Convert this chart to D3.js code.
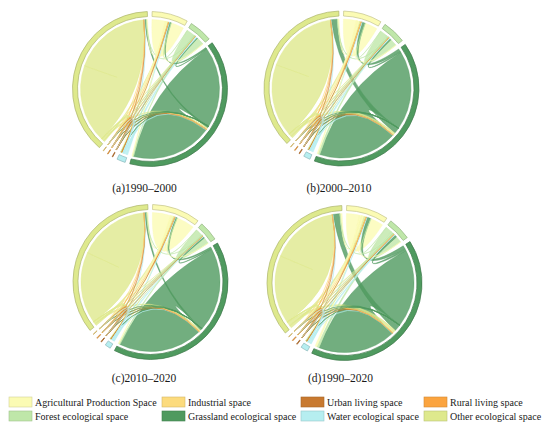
<!DOCTYPE html>
<html>
<head>
<meta charset="utf-8">
<script src="https://cdn.jsdelivr.net/npm/d3@7"></script>
<style>
  body { margin: 0; background: #fff; }
  svg { display: block; }
  text { font-family: "Liberation Serif", "Times New Roman", serif; fill: #1a1a1a; }
</style>
</head>
<body>
<svg id="chart" width="550" height="431"></svg>
<script>
// land-use classes, in the order they sit clockwise round each circle
var spaces = [
    "Agricultural Production Space",
    "Forest ecological space",
    "Grassland ecological space",
    "Water ecological space",
    "Urban living space",
    "Rural living space",
    "Industrial space",
    "Other ecological space"
];

var spaceColors = [
    "#fbfbb4", // agricultural
    "#bfe7a9", // forest
    "#4f9a5f", // grassland
    "#b6eef0", // water
    "#c8792f", // urban
    "#fba43f", // rural
    "#fcdb7d", // industrial
    "#dee98d"  // other
];

// legend is read row by row, 4 per row
var legendOrder = [
    "Agricultural Production Space", "Industrial space", "Urban living space", "Rural living space",
    "Forest ecological space", "Grassland ecological space", "Water ecological space", "Other ecological space"
];

var periods = ["(a)1990\u20132000", "(b)2000\u20132010", "(c)2010\u20132020", "(d)1990\u20132020"];

// transfer matrices, rows = from, cols = to (same order as spaces)
var flow1990_2000 = [
    [107, 3, 6, 2, 0.5, 0.5, 0.3, 9],
    [3, 63, 9, 1, 0.2, 0.2, 0.1, 3],
    [10, 5, 672, 3, 0.4, 0.4, 0.2, 12],
    [10, 20, 6, 5, 0.05, 0.05, 0.05, 7],
    [1.2, 0.4, 0.8, 0.05, 0.3, 0.05, 0.05, 0.2],
    [1.2, 0.4, 0.8, 0.05, 0.05, 0.3, 0.05, 0.2],
    [0.6, 0.3, 0.5, 0.05, 0.05, 0.05, 0.3, 0.15],
    [9, 3, 16, 5, 0.1, 0.1, 0.1, 652]
];

var flow2000_2010 = [
    [104, 4, 8, 2, 0.5, 0.5, 0.3, 12],
    [3, 59, 15, 1, 0.2, 0.2, 0.1, 4],
    [25, 10, 656, 3, 0.4, 0.4, 0.2, 50],
    [8, 15, 4, 4, 0.05, 0.05, 0.05, 5],
    [1.3, 0.4, 0.8, 0.05, 0.3, 0.05, 0.05, 0.2],
    [1.1, 0.5, 0.8, 0.05, 0.05, 0.3, 0.05, 0.2],
    [0.6, 0.3, 0.5, 0.05, 0.05, 0.05, 0.3, 0.15],
    [15, 4, 20, 4, 0.1, 0.1, 0.1, 608]
];

var flow2010_2020 = [
    [150, 3, 7, 2, 0.5, 0.5, 0.3, 10],
    [3, 52, 10, 1, 0.2, 0.2, 0.1, 3],
    [12, 8, 701, 3, 0.4, 0.4, 0.2, 15],
    [6, 12, 4, 3, 0.05, 0.05, 0.05, 5],
    [1.2, 0.4, 0.9, 0.05, 0.3, 0.05, 0.05, 0.2],
    [1.3, 0.4, 0.8, 0.05, 0.05, 0.3, 0.05, 0.2],
    [0.6, 0.3, 0.5, 0.05, 0.05, 0.05, 0.3, 0.15],
    [15, 3, 16, 4, 0.1, 0.1, 0.1, 598]
];

var flow1990_2020 = [
    [106, 5, 15, 2, 0.5, 0.5, 0.3, 15],
    [4, 51, 20, 1, 0.2, 0.2, 0.1, 5],
    [30, 15, 649, 4, 0.4, 0.4, 0.2, 55],
    [8, 15, 5, 4, 0.05, 0.05, 0.05, 6],
    [1.4, 0.5, 1, 0.05, 0.3, 0.05, 0.05, 0.2],
    [1.3, 0.5, 0.9, 0.05, 0.05, 0.3, 0.05, 0.2],
    [0.7, 0.3, 0.6, 0.05, 0.05, 0.05, 0.3, 0.15],
    [20, 5, 30, 5, 0.1, 0.1, 0.1, 571]
];

var flows = [flow1990_2000, flow2000_2010, flow2010_2020, flow1990_2020];

var svg = d3.select("#chart");

var rOuter = 77.5, rInner = 72.5, rRibbon = 69.5;
var centers = [[150, 89], [341.5, 88.5], [150.5, 282], [344.5, 283]];
var labelAt = [[144.5, 192], [339, 192], [144, 382], [340.5, 382]];

var color = d3.scaleOrdinal().domain(spaces).range(spaceColors);

var layout = d3.chordDirected()
    .padAngle(3.6 * Math.PI / 180);

var arc = d3.arc()
    .innerRadius(rInner)
    .outerRadius(rOuter);

var ribbon = d3.ribbon()
    .radius(rRibbon);

flows.forEach(function (m, p) {
    // d3 lays groups out clockwise; feed it the reversed order and mirror
    // the drawing so the classes still run clockwise from the top
    var rev = m.slice().reverse().map(function (row) {
        return row.slice().reverse();
    });
    var names = spaces.slice().reverse();
    var chords = layout(rev);

    var g = svg.append("g")
        .attr("transform", "translate(" + centers[p] + ") rotate(-2) scale(-1,1)");

    // big self-flows first, thin links on top
    var sorted = chords.slice().sort(function (a, b) {
        return b.source.value - a.source.value;
    });

    g.append("g")
        .selectAll("path")
        .data(sorted)
        .join("path")
        .attr("d", ribbon)
        .attr("fill", function (d) { return color(names[d.source.index]); })
        .attr("fill-opacity", 0.8)
        .attr("stroke", function (d) { return color(names[d.source.index]); })
        .attr("stroke-opacity", 0.8)
        .attr("stroke-width", 0.5);

    g.append("g")
        .selectAll("path")
        .data(chords.groups)
        .join("path")
        .attr("d", arc)
        .attr("fill", function (d) { return color(names[d.index]); })
        .attr("stroke", function (d) { return d3.color(color(names[d.index])).darker(0.7); })
        .attr("stroke-width", 0.7);

    svg.append("text")
        .attr("x", labelAt[p][0])
        .attr("y", labelAt[p][1])
        .attr("text-anchor", "middle")
        .style("font-size", "11.5px")
        .text(periods[p]);
});

// legend
var legendX = [9, 162, 301, 424];
var legendY = [397, 411];

var item = svg.append("g")
    .selectAll("g")
    .data(legendOrder)
    .join("g")
    .attr("transform", function (d, i) {
        return "translate(" + legendX[i % 4] + "," + legendY[Math.floor(i / 4)] + ")";
    });

item.append("rect")
    .attr("width", 23)
    .attr("height", 10)
    .attr("fill", function (d) { return color(d); })
    .attr("stroke", function (d) { return d3.color(color(d)).darker(0.5); })
    .attr("stroke-width", 0.6);

item.append("text")
    .attr("x", 26)
    .attr("y", 8.5)
    .style("font-size", "10px")
    .text(function (d) { return d; });
</script>
</body>
</html>
